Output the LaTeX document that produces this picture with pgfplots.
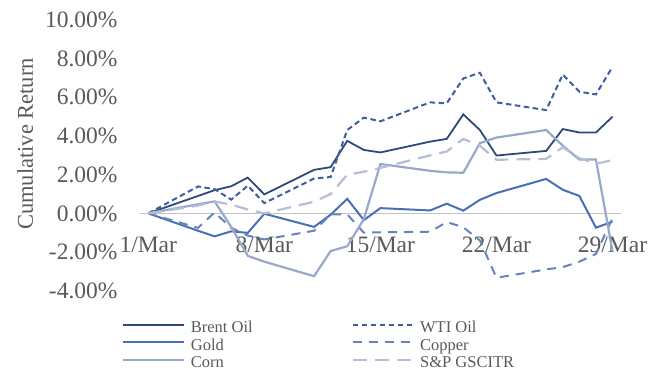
\documentclass[border=0pt]{standalone}
\usepackage{fontspec}
\setmainfont{Liberation Serif}
\usepackage{pgfplots}
\usepackage{pgfplotstable}
\pgfplotsset{compat=1.18}

\definecolor{txt}{HTML}{595959}
\definecolor{zeroline}{HTML}{C3C3C3}
\definecolor{cBrent}{HTML}{2E4A7D}
\definecolor{cWTI}{HTML}{3E5E9E}
\definecolor{cGold}{HTML}{4A6FB4}
\definecolor{cCopper}{HTML}{6882BF}
\definecolor{cCorn}{HTML}{99A7C9}
\definecolor{cSPG}{HTML}{B5BED6}

% Cumulative returns (%) by trading day in March
\pgfplotstableread{
day brent wti  gold  copper corn  spg
1   0.00  0.00  0.00  0.00  0.00  0.00
4   0.90  1.39 -0.90 -0.75  0.47  0.40
5   1.20  1.25 -1.19  0.05  0.62  0.62
6   1.40  0.71 -0.93 -0.75 -0.70  0.45
7   1.85  1.43 -1.01 -1.15 -2.20  0.20
8   0.98  0.53 -0.02 -1.35 -2.50  0.00
11  2.25  1.80 -0.70 -0.90 -3.25  0.60
12  2.39  1.88 -0.07 -0.05 -1.95  1.00
13  3.75  4.31  0.75 -0.05 -1.70  2.00
14  3.28  4.95 -0.35 -1.00 -0.30  2.15
15  3.15  4.76  0.27 -0.98  2.55  2.35
18  3.71  5.74  0.15 -0.95  2.20  3.00
19  3.85  5.69  0.50 -0.45  2.12  3.20
20  5.12  6.98  0.14 -0.72  2.10  3.85
21  4.31  7.27  0.70 -1.40  3.63  3.50
22  2.99  5.74  1.05 -3.33  3.92  2.77
25  3.23  5.34  1.78 -2.90  4.31  2.82
26  4.36  7.18  1.22 -2.78  3.50  3.42
27  4.18  6.29  0.90 -2.50  2.78  2.85
28  4.18  6.15 -0.74 -2.10  2.78  2.57
29  5.00  7.58 -0.43 -0.25 -1.96  2.75
}\returns

\begin{document}
\begin{tikzpicture}
\begin{axis}[
  name=ax,
  scale only axis,
  width=480.8pt, height=270.7pt,
  xmin=0.5, xmax=29.5, ymin=-4, ymax=10,
  axis x line=middle, axis y line=left,
  hide obscured x ticks=false, hide obscured y ticks=false,
  x axis line style={-, draw=zeroline, line width=1.6pt},
  y axis line style={draw=none},
  major tick length=0pt,
  xtick={1,8,15,22,29},
  xticklabels={1/Mar,8/Mar,15/Mar,22/Mar,29/Mar},
  ytick={-4,-2,...,10},
  yticklabel={\pgfmathprintnumber[fixed,fixed zerofill,precision=2]{\tick}\%},
  /pgf/number format/assume math mode=true,
  tick label style={font=\fontsize{23.5}{26}\selectfont, text=txt},
  xticklabel style={anchor=north, yshift=-20pt},
  yticklabel style={anchor=east, xshift=-19pt},
  ylabel={Cumulative Return},
  ylabel style={at={(axis description cs:-0.239,0.542)}, anchor=center,
    font=\fontsize{22.5}{25}\selectfont, text=txt},
  legend columns=2,
  legend cell align=left,
  legend style={at={(axis description cs:-0.0374,-0.111)}, anchor=north west,
    draw=none, fill=none, inner sep=0pt, column sep=0pt, row sep=0pt,
    font=\fontsize{16.5}{17.5}\selectfont, text=txt,
    nodes={inner sep=0pt, text height=12pt, text depth=5.5pt}},
  legend image code/.code={
    \draw[#1] (0pt,5pt) -- (61pt,5pt);},
]
\addplot[cBrent, line width=1.8pt] table[x=day, y=brent] {\returns};
\addlegendentry{\makebox[166pt][l]{\hspace{5.5pt}Brent Oil}}
\addplot[cWTI, line width=2pt, dash pattern=on 5.5pt off 3.5pt] table[x=day, y=wti] {\returns};
\addlegendentry{\hspace{5.5pt}WTI Oil}
\addplot[cGold, line width=2pt] table[x=day, y=gold] {\returns};
\addlegendentry{\makebox[166pt][l]{\hspace{5.5pt}Gold}}
\addplot[cCopper, line width=2pt, dash pattern=on 9pt off 7pt] table[x=day, y=copper] {\returns};
\addlegendentry{\hspace{5.5pt}Copper}
\addplot[cCorn, line width=2.2pt] table[x=day, y=corn] {\returns};
\addlegendentry{\makebox[166pt][l]{\hspace{5.5pt}Corn}}
\addplot[cSPG, line width=2.2pt, dash pattern=on 14pt off 8pt] table[x=day, y=spg] {\returns};
\addlegendentry{\hspace{5.5pt}S\&P GSCITR}
\end{axis}
\pgfresetboundingbox
\path ([shift={(-140pt,-80.3pt)}]ax.south west) rectangle ([shift={(42.2pt,20pt)}]ax.north east);
\end{tikzpicture}
\end{document}
